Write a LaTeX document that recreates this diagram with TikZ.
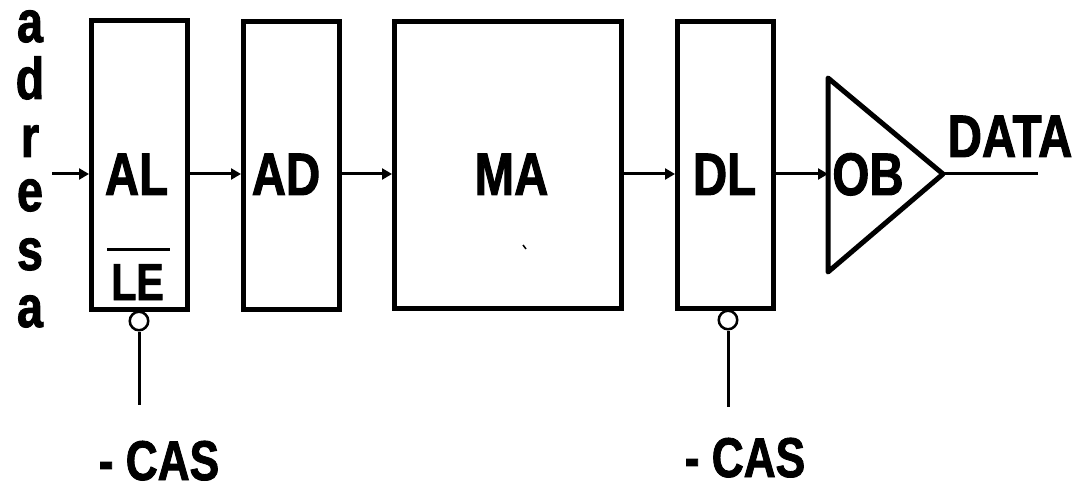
\documentclass[tikz,border=0pt]{standalone}
\usepackage{fontspec}
\setmainfont{Liberation Sans}[FakeStretch=0.79,BoldFeatures={FakeBold=1.6}]
\usetikzlibrary{arrows.meta,calc}
\begin{document}
\begin{tikzpicture}[x=1pt,y=-1pt,
  blockbox/.style={draw,line width=5pt,inner sep=0pt},
  lbl/.style={inner sep=0pt,anchor=base,font=\bfseries\fontsize{60}{60}\selectfont},
  vlet/.style={inner sep=0pt,anchor=base,text height=30pt,text depth=0pt,font=\bfseries\fontsize{59}{59}\selectfont},
  caslbl/.style={inner sep=0pt,anchor=base,text depth=0pt,font=\bfseries\fontsize{56}{56}\selectfont},
  arr/.style={line width=3pt,-{Triangle[length=10pt,width=11pt]}},
  wire/.style={line width=3pt},
  bubble/.style={circle,draw,line width=2.5pt,minimum size=18.5pt,inner sep=0pt,fill=white}]
\useasboundingbox (0,0) rectangle (1081,486);
% blocks
\node[blockbox,minimum width=96pt,minimum height=289pt] (AL) at (139.5,165) {};
\node[blockbox,minimum width=96pt,minimum height=288pt] (AD) at (291.5,165.5) {};
\node[blockbox,minimum width=227pt,minimum height=287pt] (MA) at (508,165) {};
\node[blockbox,minimum width=96pt,minimum height=287pt] (DL) at (725.5,165) {};
% output buffer triangle
\coordinate (OBtop) at (828,78);
\coordinate (OBbot) at (828,272);
\coordinate (OBapex) at (943,174);
\draw[line width=5pt,line join=round] (OBtop) -- (OBapex) -- (OBbot) -- cycle;
% labels
\node[lbl] (tAL) at (136.5,195) {AL};
\node[lbl] (tAD) at (286,195) {AD};
\node[lbl] (tMA) at (511.5,195) {MA};
\node[lbl] (tDL) at (724.5,195) {DL};
\node[lbl] (tOB) at (868,195) {OB};
\node[lbl] (tDATA) at (1010,157) {DATA};
\node[inner sep=0pt,anchor=base,font=\bfseries\fontsize{52}{52}\selectfont] (LE) at (137.5,300) {LE};
\draw[line width=3pt] ([shift={(-4,-50)}]LE.base west) -- ([shift={(6,-50)}]LE.base east);
% address letters
\node[vlet] (l1) at (30,42) {a};
\node[vlet] (l2) at (30,99) {d};
\node[vlet] (l3) at (30,157) {r};
\node[vlet] (l4) at (30,211) {e};
\node[vlet] (l5) at (30,270) {s};
\node[vlet] (l6) at (30,327) {a};
% connectors
\coordinate (row) at (0,174);
\coordinate (inp) at (52,174);
\draw[arr] (inp) -- (AL.west |- row);
\draw[arr] (AL.east |- row) -- (AD.west |- row);
\draw[arr] (AD.east |- row) -- (MA.west |- row);
\draw[arr] (MA.east |- row) -- (DL.west |- row);
\draw[arr] (DL.east |- row) -- (OBtop |- row);
\coordinate (dataend) at (1038,174);
\draw[wire] (OBapex) -- (dataend);
% CAS inputs
\node[bubble] (b1) at (139,321) {};
\node[bubble] (b2) at (728,320) {};
\coordinate (c1) at (139,405);
\coordinate (c2) at (728,407);
\draw[wire] (b1.south) -- (c1);
\draw[wire] (b2.south) -- (c2);
\node[caslbl] (cas1) at (159,480) {- CAS};
\node[caslbl] (cas2) at (745,477) {- CAS};
% small stray mark in MA
\draw[line width=1.5pt] (523,245) -- (526,249);
\end{tikzpicture}
\end{document}
